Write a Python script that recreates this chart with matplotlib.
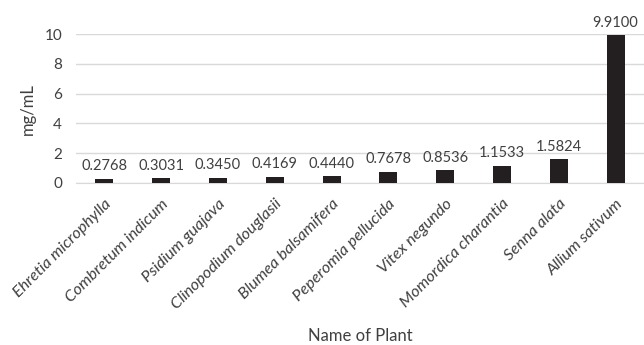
import matplotlib
matplotlib.use("Agg")
import matplotlib.pyplot as plt

plants = ["Ehretia microphylla", "Combretum indicum", "Psidium guajava",
          "Clinopodium douglasii", "Blumea balsamifera", "Peperomia pellucida",
          "Vitex negundo", "Momordica charantia", "Senna alata", "Allium sativum"]
values = [0.2768, 0.3031, 0.3450, 0.4169, 0.4440, 0.7678, 0.8536, 1.1533, 1.5824, 9.9100]
value_labels = ["0.2768", "0.3031", "0.3450", "0.4169", "0.4440", "0.7678",
                "0.8536", "1.1533", "1.5824", "9.9100"]
yticks = [0, 2, 4, 6, 8, 10]

plt.rcParams['font.family'] = ['Lato', 'DejaVu Sans']
fig = plt.figure(figsize=(6.44, 3.45), dpi=100)
ax = fig.add_axes([0.118, 0.4696, 0.882, 0.4314])
x = list(range(len(plants)))
bars = ax.bar(x, values, width=0.32, color="#231f20", zorder=3)
for xi, v, lab in zip(x, values, value_labels):
    ax.annotate(lab, (xi, v), xytext=(0, 4), textcoords="offset points",
                ha="center", va="bottom", fontsize=10.5, color="#404040")
ax.set_xlim(-0.5, len(plants) - 0.5)
ax.set_ylim(0, 10)
ax.set_yticks(yticks)
ax.set_yticklabels([str(t) for t in yticks], fontsize=11, color="#404040")
ax.set_xticks(x)
ax.set_xticklabels(plants, rotation=45, ha="right", rotation_mode="anchor",
                   fontsize=11.8, style="italic", color="#404040")
ax.tick_params(axis="both", length=0)
ax.tick_params(axis="x", pad=10)
ax.tick_params(axis="y", pad=10)
ax.yaxis.grid(True, color="#d9d9d9", linewidth=1, zorder=0)
for s in ["top", "right", "left"]:
    ax.spines[s].set_visible(False)
ax.spines["bottom"].set_color("#d9d9d9")
ax.set_ylabel("mg/mL", fontsize=12, color="#404040", labelpad=6)
ax.set_xlabel("Name of Plant", fontsize=12, color="#404040", labelpad=11)
fig.savefig("out.png", dpi=100)
